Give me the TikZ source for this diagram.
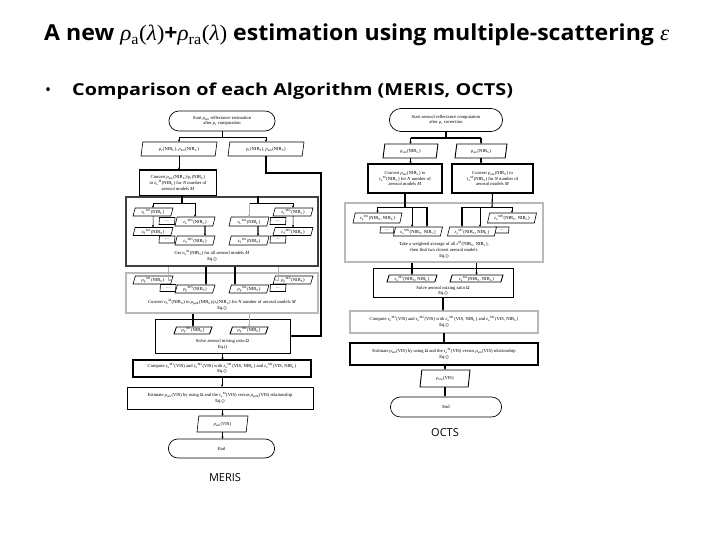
\documentclass[tikz,border=0pt]{standalone}
\usepackage{fontspec}
\usepackage{graphicx}
\newfontfamily\titlefont{Open Sans}
\newfontfamily\dfont{Liberation Serif}
\newcommand\xrho{\textit{ρ}}
\newcommand\xeps{\textit{ε}}
\newcommand\xtau{\textit{τ}}
\newcommand\xlam{\textit{λ}}
\newcommand\SupSub[2]{\textsubscript{#2}\textsuperscript{#1}}
\newcommand\NL{NIR\textsubscript{L}}
\newcommand\NS{NIR\textsubscript{S}}
\usetikzlibrary{shapes.geometric,shapes.misc,arrows.meta,calc}
\tikzset{
 base/.style={font=\dfont\fontsize{4.6}{5.6}\selectfont, align=center, inner sep=0.4pt, outer sep=0pt},
 term/.style={base, draw, line width=0.7pt, rounded rectangle, fill=white},
 proc/.style={base, draw, line width=0.6pt, rectangle, fill=white},
 procK/.style={proc, line width=1.3pt},
 procG/.style={proc, draw=gray!55, line width=1.3pt},
 io/.style={base, draw, line width=0.6pt, fill=white, trapezium, trapezium left angle=70, trapezium right angle=110, trapezium stretches body},
 ioK/.style={io, line width=0.9pt},
 frameG/.style={draw=gray!55, line width=1.6pt, rectangle, inner sep=0pt},
 frameK/.style={draw=black!75, line width=1.6pt, rectangle, inner sep=0pt},
 arr/.style={-{Stealth[length=2.6pt,width=2.2pt]}, line width=0.5pt},
 arrK/.style={arr, line width=1.1pt},
 arrG/.style={arr, draw=gray!60},
 ln/.style={line width=0.5pt},
 lnK/.style={line width=1.1pt},
 lbl/.style={base},
}
\begin{document}
\begin{tikzpicture}[x=1pt,y=-1pt]
\useasboundingbox (0,0) rectangle (720,540);
\fill[white] (0,0) rectangle (720,540);

% ---------- title ----------
\node[anchor=base west, font=\titlefont\bfseries\fontsize{22}{26}\selectfont, inner sep=0pt] (title) at (44,41)
  {\scalebox{1.05}[1]{A new {\dfont\mdseries\xrho\textsubscript{a}(\xlam)}+{\dfont\mdseries\xrho\textsubscript{ra}(\xlam)} estimation using multiple-scattering {\dfont\mdseries\xeps}}};
\node[anchor=base west, font=\titlefont\fontsize{16}{18}\selectfont, inner sep=0pt] (bul) at (45,96) {\textbullet};
\node[anchor=base west, font=\titlefont\bfseries\fontsize{16.5}{18}\selectfont, inner sep=0pt] (sub) at (72,96)
  {\scalebox{1.2}[1]{Comparison of each Algorithm (MERIS, OCTS)}};

% ================= MERIS =================
\node[term, minimum width=107, minimum height=20] (ms) at (222,121)
  {Start \xrho\textsubscript{am} reflectance estimation\\after \xrho\textsubscript{r} computation};
\node[io, minimum width=76, minimum height=14] (mp1) at (179,149) {\xrho\textsubscript{r}(\NL), \xrho\textsubscript{am}(\NL)};
\node[io, minimum width=76, minimum height=14] (mp2) at (266,149) {\xrho\textsubscript{r}(\NS), \xrho\textsubscript{am}(\NS)};
\node[procK, minimum width=77, minimum height=26] (mc1) at (178,183)
  {Convert \xrho\textsubscript{am}(\NL)/\xrho\textsubscript{r}(\NL)\\to \xeps\SupSub{M}{L}(\NL) for \textit{N} number of\\aerosol models \textit{M}};

\draw[ln] (ms.south) -- ++(0,6) coordinate (msj);
\draw[ln] (mp1.north |- msj) -- (mp2.north |- msj);
\draw[arr] (mp1.north |- msj) -- (mp1.north);
\draw[arr] (mp2.north |- msj) -- (mp2.north);
\draw[arr] (mp1.south) -- (mp1.south |- mc1.north);

% big box 1
\node[frameK, minimum width=192, minimum height=69] (mb1) at (222,231.5) {};
\node[io, minimum width=40, minimum height=8] (mA) at (153,212) {\xeps\SupSub{M1}{L}(\NL)};
\node[io, minimum width=16, minimum height=7] (mdA) at (167,221) {...};
\node[io, minimum width=40, minimum height=9] (mB) at (195,221.5) {\xeps\SupSub{MN}{L}(\NL)};
\node[io, minimum width=40, minimum height=8] (mC) at (153,231.5) {\xeps\SupSub{M1}{S}(\NS)};
\node[io, minimum width=16, minimum height=7] (mdC) at (167,239.5) {...};
\node[io, minimum width=40, minimum height=9] (mD) at (195,240.5) {\xeps\SupSub{MN}{S}(\NS)};
\node[io, minimum width=40, minimum height=8] (mA2) at (293,212) {\xeps\SupSub{MN}{L}(\NL)};
\node[io, minimum width=16, minimum height=7] (mdA2) at (278,221) {...};
\node[io, minimum width=40, minimum height=9] (mB2) at (249,221.5) {\xeps\SupSub{M1}{L}(\NL)};
\node[io, minimum width=40, minimum height=8] (mC2) at (293,231.5) {\xeps\SupSub{MN}{S}(\NS)};
\node[io, minimum width=16, minimum height=7] (mdC2) at (278,239.5) {...};
\node[io, minimum width=40, minimum height=9] (mD2) at (249,240.5) {\xeps\SupSub{M1}{S}(\NS)};
\node[lbl] (mt1) at (212,256) {Get \xeps\SupSub{M}{S}(\NS) for all aerosol models \textit{M}\\Eq.()};

\coordinate (fL) at (182,203);
\coordinate (fR) at (258,203);
\draw[lnK] (mc1.south -| fL) -- (fL);
\draw[ln] (mA.north |- fL) -- (mB.north |- fL);
\draw[arr] (mA.north |- fL) -- (mA.north);
\draw[arr] (mB.north |- fL) -- (mB.north);
\draw[arr] (mA.south) -- (mC.north);
\draw[arrK] ($(mB.south)+(10,0)$) -- ($(mD.north)+(10,0)$);
\draw[lnK] (mb1.north -| fR) -- (fR);
\draw[ln] (mB2.north |- fR) -- (mA2.north |- fR);
\draw[arr] (mA2.north |- fR) -- (mA2.north);
\draw[arrG] (mB2.north |- fR) -- (mB2.north);
\draw[arr] (mA2.south) -- (mC2.north);
\draw[arrK] ($(mB2.south)+(9,0)$) -- ($(mD2.north)+(9,0)$);

% right feed line from mp2
\coordinate (mr1) at (321,173);

% big box 2
\node[frameG, minimum width=192, minimum height=40] (mb2) at (222,293) {};
\node[io, minimum width=40, minimum height=8] (mE) at (153,280) {\xrho\SupSub{M1}{p}(\NS)};
\node[io, minimum width=16, minimum height=7] (mdE) at (168,288) {...};
\node[io, minimum width=40, minimum height=8] (mF) at (195,289) {\xrho\SupSub{MN}{p}(\NS)};
\node[io, minimum width=40, minimum height=8] (mE2) at (293,280) {\xrho\SupSub{MN}{p}(\NS)};
\node[io, minimum width=16, minimum height=7] (mdE2) at (278,288) {...};
\node[io, minimum width=40, minimum height=8] (mF2) at (249,289) {\xrho\SupSub{M1}{p}(\NS)};
\node[lbl] (mt2) at (222,305) {Convert \xeps\SupSub{M}{S}(\NS) to \xrho\textsubscript{path}(\NS)/\xrho\textsubscript{r}(\NS) for \textit{N} number of aerosol models \textit{M}\\Eq.()};

\draw[arrG] (mb1.south -| mdE.north) |- (mE.east);
\draw[arrK] ($(mb1.south -| mF.north)+(11,0)$) -- ($(mF.north)+(11,0)$);
\draw[arrG] (mb1.south -| mdE2.north) |- (mE2.west);
\draw[arrK] ($(mb1.south -| mF2.north)+(-14,0)$) -- ($(mF2.north)+(-14,0)$);

% box 3
\node[proc, minimum width=135, minimum height=34] (mb3) at (222.5,336) {};
\node[ioK, minimum width=38, minimum height=7] (mG) at (193,330.5) {\xrho\SupSub{M1}{p}(\NS)};
\node[ioK, minimum width=38, minimum height=7] (mG2) at (249,330.5) {\xrho\SupSub{M2}{p}(\NS)};
\node[lbl] (mt3) at (222.5,344.5) {Solve aerosol mixing ratio Ω\\Eq.()};
\draw[arrK] (mb2.south -| mG.north) -- (mG.north);
\draw[arrG] (mb2.south -| mG2.north) -- (mG2.north);

\draw[arrK] (mp2.south) |- (mr1) |- (mb3.east);

% box 4, 5
\node[procK, minimum width=178, minimum height=17] (mb4) at (222,368.5)
  {Compute \xeps\SupSub{M1}{a}(VIS) and \xeps\SupSub{M2}{a}(VIS) with \xeps\SupSub{M1}{a}(VIS, \NL) and \xeps\SupSub{M2}{a}(VIS, \NL)\\Eq.()};
\node[proc, minimum width=186, minimum height=22] (mb5) at (220,398)
  {Estimate \xrho\textsubscript{am}(VIS) by using Ω and the \xtau\SupSub{M}{a}(VIS) versus \xrho\textsubscript{path}(VIS) relationship\\Eq.()};
\node[io, minimum width=51, minimum height=16] (mp3) at (222.5,424) {\xrho\textsubscript{am}(VIS)};
\node[term, minimum width=107, minimum height=19] (me) at (221.5,448.5) {End};
\draw[arr] (mb3.south) -- (mb3.south |- mb4.north);
\draw[arr] (mb4.south) -- (mb4.south |- mb5.north);
\draw[arr] (mb5.south -| mp3.north) -- (mp3.north);
\draw[arr] (mp3.south) -- (mp3.south |- me.north);
\node[font=\titlefont\fontsize{11}{13}\selectfont, inner sep=0pt] (meris) at (225,478) {MERIS};

% ================= OCTS =================
\node[term, minimum width=114, minimum height=23] (os) at (446,120)
  {Start aerosol reflectance computation\\after \xrho\textsubscript{r} correction};
\node[ioK, minimum width=55, minimum height=14] (op1) at (410.5,151) {\xrho\textsubscript{am}(\NL)};
\node[ioK, minimum width=52, minimum height=14] (op2) at (481,151) {\xrho\textsubscript{am}(\NS)};
\node[procK, minimum width=74, minimum height=29] (oc1) at (405,178.5)
  {Convert \xrho\textsubscript{am}(\NL) to\\\xtau\SupSub{M}{a}(\NL) for \textit{N} number of\\aerosol models \textit{M}};
\node[procK, minimum width=81, minimum height=29] (oc2) at (492.5,178.5)
  {Convert \xrho\textsubscript{am}(\NS) to\\\xtau\SupSub{M}{a}(\NS) for \textit{N} number of\\aerosol models \textit{M}};
\draw[lnK] (os.south) -- ++(0,6.5) coordinate (osj);
\draw[lnK] (op1.north |- osj) -- (op2.north |- osj);
\draw[arrK] (op1.north |- osj) -- (op1.north);
\draw[arrK] (op2.north |- osj) -- (op2.north);
\draw[arrK] (op1.south) -- (op1.south |- oc1.north);
\draw[arrK] (op2.south) -- (op2.south |- oc2.north);

\node[frameG, minimum width=198, minimum height=59] (ob1) at (444,232.5) {};
\node[io, minimum width=49, minimum height=10] (oH) at (377.5,218) {\xeps\SupSub{M1}{a}(\NS, \NL)};
\node[io, minimum width=14, minimum height=6] (odH) at (387,230) {...};
\node[io, minimum width=49, minimum height=9] (oI) at (418,231.5) {\xeps\SupSub{MN}{a}(\NS, \NL)};
\node[io, minimum width=49, minimum height=10] (oH2) at (512,218) {\xeps\SupSub{MN}{a}(\NS, \NL)};
\node[io, minimum width=14, minimum height=6] (odH2) at (502,230) {...};
\node[io, minimum width=49, minimum height=9] (oI2) at (472,231.5) {\xeps\SupSub{M1}{a}(\NS, \NL)};
\node[lbl] (ot1) at (444,250) {Take a weighted average of all \xeps\textsuperscript{M}(\NS, \NL),\\then find two closest aerosol models\\Eq.()};

\coordinate (gL) at (405,207);
\coordinate (gR) at (492,207);
\draw[lnK] (oc1.south) -- (gL);
\draw[lnK] (oc2.south) -- (gR);
\draw[ln] (oH.north |- gL) -- ($(oI.north |- gL)+(9,0)$);
\draw[arr] (oH.north |- gL) -- (oH.north);
\draw[arr] ($(oI.north |- gL)+(-6,0)$) -- ($(oI.north)+(-6,0)$);
\draw[arrK] ($(oI.north |- gL)+(9,0)$) -- ($(oI.north)+(9,0)$);
\draw[ln] ($(oI2.north |- gR)+(-10,0)$) -- (oH2.north |- gR);
\draw[arr] (oH2.north |- gR) -- (oH2.north);
\draw[arrK] ($(oI2.north |- gR)+(-10,0)$) -- ($(oI2.north)+(-10,0)$);
\draw[arr] ($(oI2.north |- gR)+(8,0)$) -- ($(oI2.north)+(8,0)$);

\node[proc, minimum width=140, minimum height=29] (ob2) at (443,282.5) {};
\node[ioK, minimum width=50, minimum height=7] (oJ) at (412,278.5) {\xeps\SupSub{M1}{a}(\NS, \NL)};
\node[ioK, minimum width=53, minimum height=7] (oJ2) at (476.5,278.5) {\xeps\SupSub{M2}{a}(\NS, \NL)};
\node[lbl] (ot2) at (443,291) {Solve aerosol mixing ratio Ω\\Eq.()};
\draw[arrK] (ob1.south -| oJ.north) -- (oJ.north);
\draw[arr] (ob1.south -| oJ2.north) -- (oJ2.north);

\node[procG, minimum width=188, minimum height=22] (ob3) at (444,322)
  {Compute \xeps\SupSub{M1}{a}(VIS) and \xeps\SupSub{M2}{a}(VIS) with \xeps\SupSub{M1}{a}(VIS, \NL) and \xeps\SupSub{M2}{a}(VIS, \NL)\\Eq.()};
\node[procK, minimum width=188, minimum height=22] (ob4) at (444,354)
  {Estimate \xrho\textsubscript{am}(VIS) by using Ω and the \xtau\SupSub{M}{a}(VIS) versus \xrho\textsubscript{am}(VIS) relationship\\Eq.()};
\node[ioK, minimum width=50, minimum height=17] (op3) at (445,378.5) {\xrho\textsubscript{am}(VIS)};
\node[term, minimum width=112, minimum height=20] (oe) at (446,407) {End};
\draw[arrK] (ob2.south) -- (ob2.south |- ob3.north);
\draw[arrK] (ob3.south) -- (ob3.south |- ob4.north);
\draw[arrK] (ob4.south -| op3.north) -- (op3.north);
\draw[arrK] (op3.south) -- (op3.south |- oe.north);
\node[font=\titlefont\fontsize{11}{13}\selectfont, inner sep=0pt] (octs) at (445,433) {OCTS};
\end{tikzpicture}
\end{document}
